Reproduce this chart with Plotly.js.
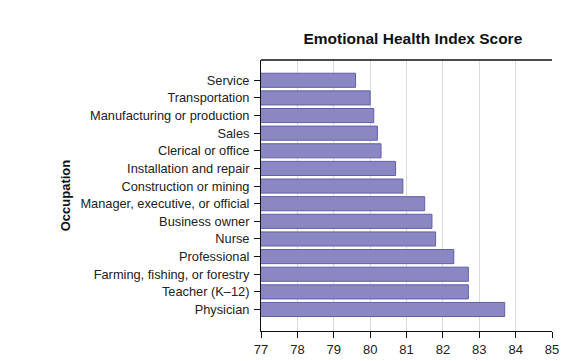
<!DOCTYPE html>
<html>
<head>
<meta charset="utf-8">
<script src="https://cdn.plot.ly/plotly-3.0.1.min.js"></script>
<style>html,body{margin:0;padding:0;background:#fff}#chart{width:586px;height:361px}</style>
</head>
<body>
<div id="chart"></div>
<script>
const occupations = [
  "Service", "Transportation", "Manufacturing or production", "Sales",
  "Clerical or office", "Installation and repair", "Construction or mining",
  "Manager, executive, or official", "Business owner", "Nurse",
  "Professional", "Farming, fishing, or forestry", "Teacher (K\u201312)", "Physician"
];
const scores = [79.6, 80.0, 80.1, 80.2, 80.3, 80.7, 80.9, 81.5, 81.7, 81.8, 82.3, 82.7, 82.7, 83.7];
const xTicks = [77, 78, 79, 80, 81, 82, 83, 84, 85];

const trace = {
  type: "bar",
  orientation: "h",
  y: occupations,
  x: scores,
  base: 0,
  width: 0.8,
  marker: { color: "rgb(138,135,195)", line: { color: "rgb(98,94,170)", width: 1 } },
  hoverinfo: "x+y"
};

const layout = {
  width: 586, height: 361,
  margin: { l: 261, r: 34, t: 60, b: 30 },
  paper_bgcolor: "#fff", plot_bgcolor: "#fff",
  font: { family: "Liberation Sans, Arial, sans-serif", color: "#222" },
  showlegend: false,
  title: {
    text: "<b>Emotional Health Index Score</b>",
    font: { size: 15.5, color: "#111" },
    xref: "paper", x: 0.522, xanchor: "center",
    yref: "container", y: 0.892, yanchor: "middle"
  },
  xaxis: {
    range: [77, 85],
    tickvals: xTicks,
    ticktext: xTicks.map(String),
    showgrid: true, gridcolor: "#dcdcdc", gridwidth: 1,
    zeroline: false,
    showline: true, linecolor: "#111", linewidth: 1,
    ticks: "outside", ticklen: 6, tickcolor: "#111",
    tickfont: { size: 13, color: "#222" }
  },
  yaxis: {
    type: "category",
    range: [14.22, -1.15],
    showgrid: false, zeroline: false,
    showline: true, linecolor: "#111", linewidth: 1,
    ticks: "outside", ticklen: 6, tickcolor: "#111",
    ticklabelstandoff: 2,
    tickfont: { size: 12.8, color: "#222" },
    title: { text: "<b>Occupation</b>", font: { size: 13, color: "#111" }, standoff: 6 }
  },
  shapes: [{
    type: "line", xref: "paper", yref: "paper",
    x0: 0, x1: 1, y0: 1, y1: 1,
    line: { color: "#111", width: 1.5 }
  }]
};

Plotly.newPlot("chart", [trace], layout, { displayModeBar: false, staticPlot: true });
</script>
</body>
</html>
